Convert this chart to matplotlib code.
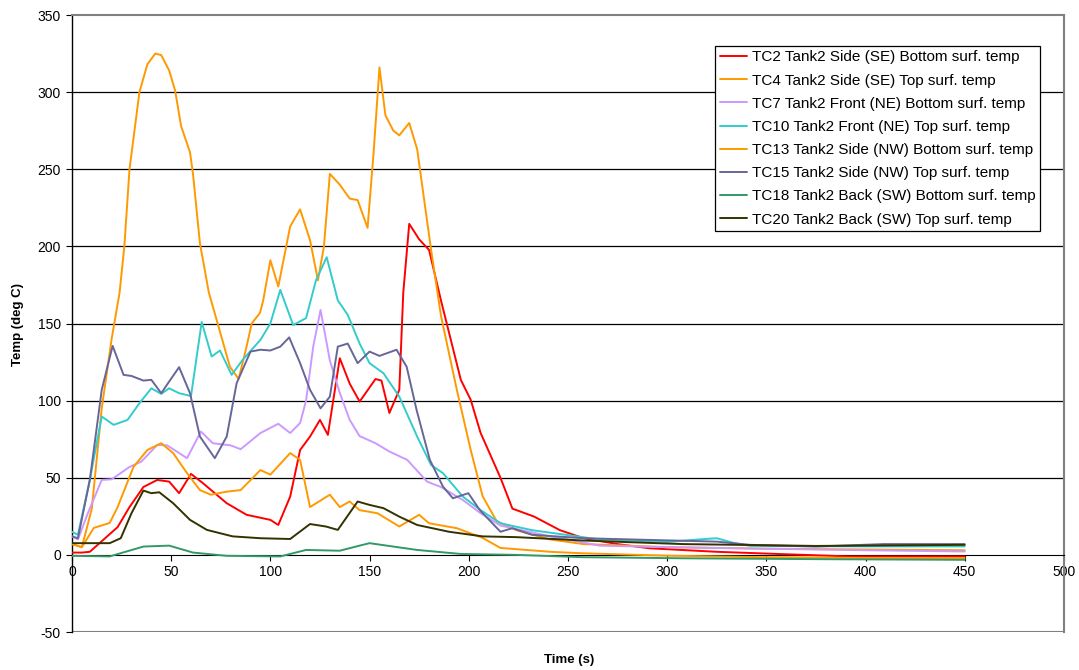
import matplotlib
matplotlib.use("Agg")
import matplotlib.pyplot as plt

plt.rcParams['font.family'] = ['Liberation Sans', 'DejaVu Sans']
plt.rcParams['axes.unicode_minus'] = False

# Thermocouple readings (time in s, temperature in deg C)
tc2_t = [0, 5, 9, 16, 23, 29, 36, 43, 49, 54, 60, 66, 78, 88, 100, 104, 110, 115, 120, 125, 129, 135, 140,
         145, 153, 156, 160, 165, 167, 170, 175, 180, 186, 196, 201, 206, 216, 222, 233, 246, 258, 275, 291,
         325, 358, 392, 420, 450]
tc2_v = [1.5, 1.5, 2, 10, 18, 31, 44, 48.6, 47.5, 40, 52.5, 46.5, 33.5, 26, 22.7, 19.4, 37.8, 68, 76.7, 87.5,
         77.8, 127.5, 111, 99.4, 114, 113, 92, 107, 170, 214.6, 204.6, 197.7, 165, 113.5, 100.5, 79, 50, 30,
         24.8, 16, 10.8, 7, 4.3, 2, 0.5, -1, -1, -1]

tc4_t = [0, 5, 10, 15, 20, 24, 26.4, 29, 34, 38, 42, 45, 49, 52, 55, 59.5, 61, 64.5, 69, 73, 79.6, 84, 88,
         90.6, 94.8, 96.4, 100, 104, 110, 115, 120, 124, 127, 130, 135, 140, 144, 149, 152, 155, 158, 162,
         165, 170, 174, 181, 186, 194, 201, 207, 214, 224, 241, 258, 280, 300, 350, 400, 450]
tc4_v = [7, 5, 30, 95, 140, 170, 200, 250, 300, 318, 325, 324, 314, 301, 278, 261, 247, 202, 170, 152, 122,
         114, 135, 150, 157, 165, 191, 174, 213, 224, 204, 178, 200, 247, 240, 231, 230, 212, 260, 316, 285,
         275, 272, 280, 263, 198, 155, 107, 68, 38, 22, 16, 10, 7, 6, 5, 4, 3.5, 3]

tc7_t = [0, 3, 8, 15, 20, 29, 35, 43, 48, 58, 65, 71, 80, 85, 95, 104, 110, 115, 118, 121.6, 125.3, 130,
         135, 140, 145, 153, 160, 169, 179, 186, 197, 206, 216, 241, 266, 300, 350, 400, 450]
tc7_v = [12, 10, 27, 48.6, 49, 57, 60.5, 71.3, 71, 62.7, 80, 72.4, 71, 68.5, 79, 85, 79, 85.5, 100, 135,
         158.8, 126, 105, 87.5, 77, 72.4, 67, 61.6, 47.5, 44, 35.6, 27, 19, 12, 6, 5, 4, 3, 2.2]

tc10_t = [0, 3, 9, 15, 21, 28, 34, 40, 45, 49, 54, 60, 65.4, 70.4, 74.6, 80.5, 86, 95, 100, 105, 111.5, 118,
          123, 128.4, 134, 139, 145, 150, 157, 165, 174, 181, 187, 197, 206, 216, 232, 249, 266, 300, 316,
          325, 334, 342, 400, 450]
tc10_v = [15, 13, 48.6, 89.7, 84.3, 87.5, 98.3, 108, 104.4, 108, 104.8, 103, 151, 128.6, 132.5, 116.7, 126.4,
          139.4, 150, 171.8, 149, 153.5, 178, 193, 165, 155.6, 137, 124.3, 117.8, 102.6, 76.7, 58.3, 53, 37.8,
          29, 20.5, 16, 13, 10, 8.4, 10, 10.8, 7.6, 5.8, 5.5, 5.5]

tc13_t = [0, 5, 11, 19, 23, 31, 38, 45, 51, 58, 64.5, 70, 78, 85, 95, 100, 110, 115, 120, 130, 135, 140,
          145, 154, 165, 175, 180, 194, 207, 216, 241, 258, 300, 350, 400, 450]
tc13_v = [7, 5, 17.5, 20.7, 31, 57, 68, 72.4, 66, 53, 42, 39, 41, 42, 55, 52, 66, 61.6, 31, 39, 31, 34.6,
          29, 27, 18.4, 26, 20.5, 17.3, 11, 4.5, 2, 1, -0.5, -1.5, -2, -2]

tc15_t = [0, 3, 9, 15, 20.5, 26, 30, 36, 40, 45, 49, 54, 59.5, 64.5, 72, 78, 83, 90, 95, 100, 105, 109.5,
          115, 120, 125.3, 130, 134, 139, 144, 150, 155, 163.6, 168.7, 173.7, 180.4, 187, 192, 199.8, 205.6,
          216, 222, 232, 258, 291, 325, 342, 375, 409, 450]
tc15_v = [12, 10.8, 48.6, 107, 135.5, 116.7, 116, 113, 113.5, 104.8, 112.4, 121.7, 104.8, 76.7, 62.7, 76.7,
          111.3, 131.8, 133, 132.5, 135, 141, 124.3, 107, 95, 102.6, 135, 137, 124.3, 131.8, 129, 133, 122,
          94, 61.6, 44.3, 36.7, 40, 29, 15, 17.3, 13, 10.8, 9.7, 8.6, 6.5, 5.4, 7, 7]

tc18_t = [0, 19, 36, 49, 61, 78, 105, 118, 135, 145, 150, 174, 196, 224, 258, 308, 380, 450]
tc18_v = [-0.6, -1, 5.4, 6, 1.5, -0.6, -1, 3.2, 2.7, 6, 7.6, 3.2, 0.6, 0, -1.5, -2.2, -2.8, -3.2]

tc20_t = [0, 19, 24.6, 30, 36, 40, 44, 51, 59.5, 68, 81, 95, 110, 120, 128, 134, 144, 150, 157, 165, 174,
          190, 207, 224, 258, 308, 375, 450]
tc20_v = [7.6, 7.6, 10.8, 27, 41.7, 40, 40.6, 33.5, 22.7, 16.2, 12, 10.8, 10.3, 20, 18.4, 16.2, 34.6, 32.4,
          30.3, 24.8, 19.4, 15, 12, 11.5, 9.3, 7, 5.8, 6.5]

series = [
    ("TC2 Tank2 Side (SE) Bottom surf. temp", tc2_t, tc2_v, "#FF0000"),
    ("TC4 Tank2 Side (SE) Top surf. temp", tc4_t, tc4_v, "#FF9900"),
    ("TC7 Tank2 Front (NE) Bottom surf. temp", tc7_t, tc7_v, "#CC99FF"),
    ("TC10 Tank2 Front (NE) Top surf. temp", tc10_t, tc10_v, "#33CCCC"),
    ("TC13 Tank2 Side (NW) Bottom surf. temp", tc13_t, tc13_v, "#FF9900"),
    ("TC15 Tank2 Side (NW) Top surf. temp", tc15_t, tc15_v, "#666699"),
    ("TC18 Tank2 Back (SW) Bottom surf. temp", tc18_t, tc18_v, "#339966"),
    ("TC20 Tank2 Back (SW) Top surf. temp", tc20_t, tc20_v, "#333300"),
]

fig = plt.figure(figsize=(10.79, 6.70), dpi=100)
ax = fig.add_axes([0.0667, 0.0567, 0.9193, 0.9209])

# gridlines
for g in range(50, 350, 50):
    ax.axhline(g, color="black", lw=0.9, zorder=1)
ax.axhline(-50, color="#808080", lw=1.5, zorder=1)

for label, t, v, c in series:
    ax.plot(t, v, color=c, lw=1.4, label=label, zorder=3,
            solid_joinstyle="round", solid_capstyle="round")

ax.set_xlim(0, 500)
ax.set_ylim(-50, 350)
ax.set_xticks(range(0, 501, 50))
ax.set_yticks(range(-50, 351, 50))

ax.spines['bottom'].set_position(('data', 0))
ax.spines['bottom'].set_color("black")
ax.spines['left'].set_color("black")
ax.spines['left'].set_linewidth(1.0)
ax.spines['top'].set_color("#808080")
ax.spines['top'].set_linewidth(1.5)
ax.spines['right'].set_color("#808080")
ax.spines['right'].set_linewidth(1.5)

ax.tick_params(axis='both', direction='out', length=4, width=0.8, labelsize=10, colors="black")
ax.tick_params(axis='y', pad=4)
ax.tick_params(axis='x', pad=3)

fig.text(0.527, 0.006, "Time (s)", ha="center", va="bottom", fontsize=9.5, fontweight="bold")
fig.text(0.017, 0.515, "Temp (deg C)", ha="center", va="center", rotation=90, fontsize=9.5, fontweight="bold")

leg = ax.legend(loc="upper right", bbox_to_anchor=(0.976, 0.950), fontsize=11, frameon=True,
                fancybox=False, edgecolor="black", framealpha=1, borderaxespad=0,
                handlelength=1.8, handletextpad=0.3, labelspacing=0.6, borderpad=0.3)
leg.get_frame().set_linewidth(0.9)

fig.savefig("out.png", dpi=100)
